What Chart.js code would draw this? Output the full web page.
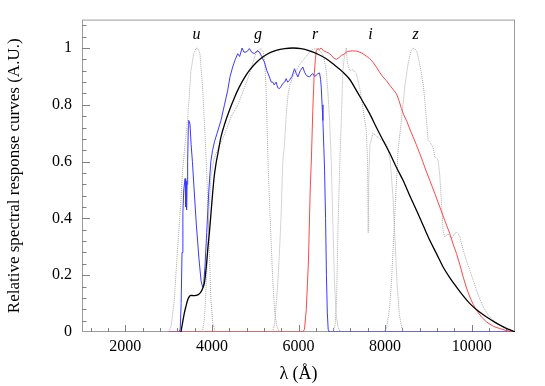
<!DOCTYPE html>
<html><head><meta charset="utf-8">
<script src="https://cdn.jsdelivr.net/npm/chart.js@4/dist/chart.umd.min.js"></script>
<style>html,body{margin:0;padding:0;background:#fff}#wrap{width:545px;height:386px}</style>
</head><body><div id="wrap"><canvas id="c" width="545" height="386"></canvas></div>
<script>
// ---- data (wavelength in Angstrom, relative response) ----
const uX=[3000,3060,3130,3206,3285,3322,3380,3438,3516,3580,3631,3669,3724,3785,3840,3880,3910,3940,3975,4020,4080];
const uY=[0,0.02,0.11,0.29,0.46,0.57,0.66,0.745,0.92,0.98,0.998,1.0,0.98,0.86,0.7,0.56,0.42,0.29,0.12,0.03,0];
const gX=[3780,3830,3880,3930,3980,4050,4150,4250,4326,4450,4600,4700,4790,4870,4943,5000,5059,5136,5190,5220,5250,5275,5300,5340,5400,5450,5500,5560];
const gY=[0,0.05,0.2,0.42,0.55,0.61,0.65,0.68,0.71,0.76,0.8,0.84,0.875,0.91,0.945,0.975,0.992,0.998,0.985,0.95,0.86,0.72,0.58,0.42,0.2,0.07,0.02,0];
const rX=[5400,5450,5521,5560,5598,5637,5676,5715,5760,5792,5870,5946,6020,6100,6180,6255,6330,6410,6500,6580,6641,6690,6718,6757,6790,6833,6870,6910,6960];
const rY=[0,0.03,0.17,0.28,0.41,0.6,0.66,0.76,0.84,0.865,0.9,0.92,0.94,0.957,0.97,0.986,0.995,0.998,0.99,0.97,0.92,0.82,0.745,0.6,0.4,0.17,0.06,0.02,0];
const iX=[6800,6850,6880,6910,6949,6988,7025,7060,7090,7104,7125,7180,7257,7336,7412,7488,7565,7595,7610,7625,7650,7720,7800,7875,7990,8060,8120,8180,8230,8280,8330,8390,8440];
const iY=[0,0.03,0.12,0.35,0.57,0.745,0.92,0.97,0.99,1.0,0.95,0.92,0.925,0.91,0.86,0.79,0.71,0.6,0.35,0.55,0.66,0.7,0.69,0.68,0.67,0.65,0.6,0.48,0.32,0.16,0.06,0.01,0];
const zX=[7950,8030,8100,8145,8222,8299,8377,8454,8531,8600,8646,8700,8738,8790,8840,8880,8917,8956,8993,9032,9109,9148,9225,9264,9302,9340,9379,9420,9456,9534,9600,9650,9690,9727,9803,9880,9958,10040,10113,10190,10267,10380,10498,10620,10730,10860,11000];
const zY=[0,0.01,0.08,0.17,0.405,0.64,0.745,0.863,0.945,0.99,1.0,0.995,0.986,0.95,0.91,0.87,0.816,0.745,0.675,0.669,0.651,0.616,0.605,0.55,0.452,0.358,0.335,0.34,0.346,0.329,0.345,0.352,0.345,0.335,0.288,0.25,0.217,0.18,0.147,0.115,0.088,0.06,0.041,0.027,0.018,0.008,0];
const blueX=[3000,3240,3268,3290,3310,3330,3350,3380,3395,3405,3415,3425,3440,3455,3465,3480,3495,3520,3550,3590,3640,3700,3750,3785,3810,3840,3880,3930,3975,4016,4060,4120,4210,4290,4364,4420,4480,4540,4596,4640,4697,4740,4789,4830,4866,4920,4981,5040,5097,5150,5213,5270,5329,5370,5405,5440,5484,5520,5560,5600,5637,5680,5715,5750,5792,5850,5907,5950,5984,6040,6100,6140,6178,6220,6255,6290,6331,6370,6410,6450,6486,6510,6525,6545,6563,6585,6602,6625,6645,6665,6685,6710,11000];
const blueY=[0,0,0.01,0.1,0.28,0.42,0.5,0.54,0.44,0.53,0.43,0.52,0.6,0.72,0.745,0.74,0.73,0.66,0.6,0.5,0.38,0.26,0.18,0.158,0.17,0.23,0.35,0.5,0.6,0.64,0.67,0.7,0.745,0.8,0.85,0.9,0.933,0.96,0.98,0.97,1.0,0.985,0.986,0.99,0.998,0.985,0.98,0.99,0.986,0.97,0.95,0.92,0.898,0.88,0.88,0.87,0.88,0.86,0.857,0.865,0.875,0.88,0.892,0.88,0.886,0.9,0.927,0.91,0.898,0.92,0.933,0.915,0.904,0.9,0.898,0.905,0.91,0.9,0.904,0.91,0.912,0.89,0.863,0.8,0.745,0.65,0.57,0.4,0.2,0.07,0.01,0,0];
const redX=[3000,6100,6139,6180,6230,6270,6300,6330,6360,6390,6410,6447,6480,6525,6580,6641,6700,6757,6810,6873,6930,6988,7050,7104,7141,7240,7336,7420,7488,7560,7643,7720,7798,7870,7951,8030,8106,8180,8262,8320,8377,8430,8493,8570,8646,8720,8801,8870,8940,9032,9150,9264,9380,9495,9570,9650,9730,9803,9880,9958,10035,10113,10230,10345,10500,10653,10800,11000];
const redY=[0,0,0.01,0.08,0.25,0.5,0.62,0.78,0.9,0.96,0.99,0.998,0.995,1.0,0.99,0.986,0.982,0.975,0.965,0.96,0.965,0.974,0.978,0.985,0.988,0.99,0.989,0.985,0.98,0.972,0.963,0.95,0.933,0.915,0.898,0.885,0.869,0.855,0.839,0.815,0.787,0.765,0.745,0.715,0.687,0.66,0.628,0.6,0.57,0.534,0.487,0.44,0.392,0.346,0.31,0.276,0.235,0.194,0.155,0.123,0.097,0.076,0.052,0.035,0.02,0.012,0.005,0];
const blackX=[3285,3320,3361,3400,3438,3480,3516,3570,3631,3700,3747,3790,3824,3850,3877,3910,3940,3980,4016,4055,4095,4140,4210,4300,4403,4520,4634,4750,4866,5020,5174,5330,5484,5680,5868,6060,6255,6450,6641,6830,7025,7180,7336,7490,7643,7800,7951,8106,8260,8414,8570,8724,8880,9032,9190,9340,9500,9650,9800,9958,10150,10345,10540,10730,10860,11000];
const blackY=[0,0.03,0.065,0.09,0.112,0.125,0.129,0.128,0.129,0.133,0.141,0.155,0.17,0.2,0.241,0.3,0.346,0.42,0.487,0.55,0.593,0.63,0.687,0.735,0.78,0.825,0.863,0.895,0.921,0.948,0.968,0.983,0.992,0.998,1.0,0.998,0.99,0.978,0.962,0.94,0.915,0.89,0.851,0.81,0.769,0.72,0.675,0.63,0.58,0.534,0.48,0.429,0.375,0.323,0.275,0.229,0.19,0.158,0.128,0.1,0.074,0.053,0.034,0.018,0.009,0];
const xTicks=[2000,4000,6000,8000,10000];
const yTicks=[0,0.2,0.4,0.6,0.8,1];
const yTickLabels=['0','0.2','0.4','0.6','0.8','1'];
const bandNames=['u','g','r','i','z'];
const bandX=[3646,5063,6384,7664,8704];
const bandY=1.045;

const serif="'Liberation Serif', serif";
function pts(xs,ys){return xs.map((x,i)=>({x:x,y:ys[i]}));}
function filt(xs,ys){return {data:pts(xs,ys),borderColor:'#a8a8a8',borderWidth:1,borderDash:[1,1],pointRadius:0,order:3};}

const framePlugin={
  id:'frame',
  beforeDatasetsDraw(chart){
    const {ctx,chartArea:a,scales:{x,y}}=chart;
    ctx.save();
    ctx.strokeStyle='#9c9c9c';ctx.lineWidth=1;
    ctx.strokeRect(a.left+0.5,a.top+0.5,a.right-a.left-1,a.bottom-a.top-1);
    ctx.strokeStyle='#808080';
    ctx.beginPath();
    for(let v=1200;v<=10800;v+=400){
      const p=Math.round(x.getPixelForValue(v))+0.5;
      const len=(v%2000===0)?7:4;
      ctx.moveTo(p,a.bottom);ctx.lineTo(p,a.bottom-len);
    }
    for(let k=1;k<=27;k++){
      const v=k*0.04;
      const p=Math.round(y.getPixelForValue(v))+0.5;
      const len=(k%5===0)?8:4.5;
      ctx.moveTo(a.left,p);ctx.lineTo(a.left+len,p);
    }
    ctx.stroke();
    ctx.restore();
  },
  afterDatasetsDraw(chart){
    const {ctx,scales:{x,y}}=chart;
    ctx.save();
    ctx.fillStyle='#000';ctx.font='italic 16px '+serif;
    ctx.textAlign='center';ctx.textBaseline='middle';
    bandNames.forEach((n,i)=>ctx.fillText(n,x.getPixelForValue(bandX[i]),y.getPixelForValue(bandY)));
    ctx.restore();
  }
};

new Chart(document.getElementById('c'),{
  type:'line',
  data:{datasets:[
    {data:pts(blackX,blackY),borderColor:'#000',borderWidth:1.3,pointRadius:0,cubicInterpolationMode:'monotone',order:0},
    {data:pts(redX,redY),borderColor:'#ff4848',borderWidth:1,pointRadius:0,order:1},
    {data:pts(blueX,blueY),borderColor:'#3a3aff',borderWidth:1,pointRadius:0,order:2},
    filt(uX,uY),filt(gX,gY),filt(rX,rY),filt(iX,iY),filt(zX,zY)
  ]},
  options:{
    responsive:false,animation:false,devicePixelRatio:1,
    layout:{padding:{left:0,right:30,top:19,bottom:0}},
    plugins:{legend:{display:false},tooltip:{enabled:false}},
    scales:{
      x:{type:'linear',min:1000,max:11000,
        grid:{display:false,drawTicks:false},border:{display:false},
        afterBuildTicks(s){s.ticks=xTicks.map(v=>({value:v}));},
        afterFit(s){s.height=54;},
        ticks:{color:'#000',padding:5,maxRotation:0,font:{family:serif,size:16},callback:(v)=>String(v)},
        title:{display:true,text:'λ (Å)',color:'#000',font:{family:serif,size:18},padding:{top:0,bottom:1}}
      },
      y:{type:'linear',min:0,max:1.1,
        grid:{display:false,drawTicks:false},border:{display:false},
        afterBuildTicks(s){s.ticks=yTicks.map(v=>({value:v}));},
        afterFit(s){s.width=82;},
        ticks:{color:'#000',padding:10,font:{family:serif,size:16},callback:(v,i)=>yTickLabels[i]},
        title:{display:true,text:'Relative spectral response curves (A.U.)',color:'#000',font:{family:serif,size:17},padding:{top:4,bottom:4}}
      }
    }
  },
  plugins:[framePlugin]
});
</script></body></html>
